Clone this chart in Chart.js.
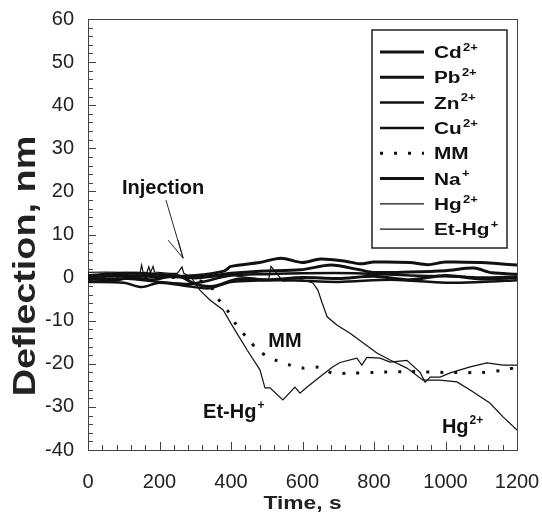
<!DOCTYPE html>
<html>
<head>
<meta charset="utf-8">
<script src="https://cdn.jsdelivr.net/npm/chart.js@4.4.1/dist/chart.umd.min.js"></script>
<style>
  body { margin: 0; background: #fff; }
  #grafico { display: block; }
</style>
</head>
<body>
<canvas id="grafico" width="542" height="519"></canvas>
<script>
// tiempos (s) y deflexiones (nm) leidos a ojo del grafico original
const cdT = [0, 100, 200, 300, 380, 400, 480, 540, 600, 650, 720, 760, 800, 900, 950, 1000, 1100, 1150, 1200];
const cdY = [0.3, 0.5, 0.2, 0.5, 1.5, 2.6, 3.5, 4.5, 3.5, 4.3, 3.8, 3.2, 3.6, 3.5, 3.0, 3.6, 3.5, 3.2, 2.9];

const pbT = [0, 100, 200, 300, 400, 480, 594, 680, 760, 800, 900, 1000, 1080, 1130, 1200];
const pbY = [0.5, 1.0, 0.8, 0.0, 1.0, 1.5, 1.8, 2.9, 1.8, 1.2, 1.3, 1.6, 2.2, 1.1, 0.8];

const znT = [0, 100, 200, 280, 320, 400, 500, 600, 750, 900, 1000, 1100, 1200];
const znY = [-0.5, -0.2, -1.0, -1.5, -1.0, 0.5, 0.8, 1.0, 1.0, 0.5, 0.3, 0.0, 0.2];

const cuT = [0, 100, 150, 200, 280, 340, 400, 550, 700, 850, 1000, 1100, 1200];
const cuY = [-1.0, -1.2, -2.2, -1.2, -2.0, -2.5, -1.0, -0.6, -1.0, -0.5, -1.2, -1.0, -0.6];

const naT = [0, 60, 120, 180, 250, 300, 350, 420, 500, 600, 700, 800, 900, 1000, 1100, 1200];
const naY = [0.0, -0.8, 0.0, -0.5, 0.5, -1.5, -2.0, -0.3, -0.5, 0.0, -0.2, 0.3, -0.5, 0.5, -0.3, 0.0];

const mmT = [0, 100, 200, 300, 341, 355, 389, 411, 445, 481, 523, 565, 601, 643, 685, 724, 800, 900, 1000, 1100, 1160, 1200];
const mmY = [0.0, -0.3, 0.2, -0.5, -1.7, -4.0, -7.5, -10.5, -14.0, -17.2, -19.1, -20.3, -21.0, -20.8, -22.2, -22.2, -22.0, -21.8, -22.0, -22.0, -21.5, -20.8];

const hgT = [0, 100, 200, 300, 400, 505, 512, 545, 600, 629, 643, 655, 669, 696, 733, 808, 845, 892, 937, 985, 1032, 1069, 1124, 1161, 1200];
const hgY = [0.0, 0.3, 0.2, -0.3, 0.5, -0.5, 2.6, -0.8, -0.5, -1.25, -2.9, -5.9, -9.1, -11.0, -12.9, -17.5, -19.1, -21.0, -23.8, -23.8, -24.2, -26.1, -29.1, -32.3, -35.4];

const ethgT = [0, 50, 100, 146, 150, 154, 165, 170, 175, 182, 186, 230, 250, 263, 268, 290, 299, 313, 341, 378, 406, 445, 481, 495, 509, 545, 579, 593, 613, 649, 685, 705, 752, 766, 780, 817, 845, 892, 929, 943, 957, 985, 1013, 1069, 1116, 1161, 1200];
const ethgY = [1.2, 1.3, 1.2, 1.2, 2.9, 1.3, 1.2, 2.5, 1.2, 2.6, 1.3, 1.0, 1.0, 2.5, 1.0, 0.0, -1.25, -2.9, -5.2, -7.5, -11.5, -16.8, -21.4, -25.6, -25.6, -28.4, -25.4, -26.8, -25.4, -23.0, -20.7, -19.7, -18.7, -20.3, -18.5, -18.7, -19.6, -19.2, -22.0, -24.3, -23.1, -23.1, -22.1, -20.7, -19.8, -20.3, -20.3];

const xMin = 0, xMax = 1200, xPaso = 200, xMenor = 40;
const yMin = -40, yMax = 60, yPaso = 10, yMenor = 2;
const tituloX = 'Time, s';
const tituloY = 'Deflection, nm';

const fuente = '"Liberation Sans", Arial, sans-serif';
const negro = '#111';

function pares(t, v) {
    return t.map((x, i) => ({ x: x, y: v[i] }));
}

// nombre, superindice, datos, grosor, trazo
const series = [
    { nombre: 'Cd', sup: '2+', data: pares(cdT, cdY), ancho: 3, dash: [], tension: 0.3 },
    { nombre: 'Pb', sup: '2+', data: pares(pbT, pbY), ancho: 3, dash: [], tension: 0.3 },
    { nombre: 'Zn', sup: '2+', data: pares(znT, znY), ancho: 2.5, dash: [], tension: 0.3 },
    { nombre: 'Cu', sup: '2+', data: pares(cuT, cuY), ancho: 2.5, dash: [], tension: 0.3 },
    { nombre: 'MM', sup: '', data: pares(mmT, mmY), ancho: 3, dash: [3, 11], tension: 0.3 },
    { nombre: 'Na', sup: '+', data: pares(naT, naY), ancho: 3, dash: [], tension: 0.3 },
    { nombre: 'Hg', sup: '2+', data: pares(hgT, hgY), ancho: 1.2, dash: [], tension: 0 },
    { nombre: 'Et-Hg', sup: '+', data: pares(ethgT, ethgY), ancho: 1.2, dash: [], tension: 0 }
];

// textos sobre el grafico, en coordenadas de datos
const notas = [
    { texto: 'Injection', sup: '', x: 95, y: 19.4, align: 'left' },
    { texto: 'MM', sup: '', x: 551, y: -16.1, align: 'center' },
    { texto: 'Et-Hg', sup: '+', x: 322, y: -32.6, align: 'left' },
    { texto: 'Hg', sup: '2+', x: 990, y: -36, align: 'left' }
];
// flecha de la inyeccion: cola, punta y dos lados de la cabeza
const flechaX = [218, 266, 224, 252];
const flechaY = [18, 4.5, 8.7, 8.7];

function textoConSup(ctx, texto, sup, x, y, tam, align, sx) {
    sx = sx || 1;
    ctx.font = 'bold ' + tam + 'px ' + fuente;
    const w = ctx.measureText(texto).width;
    ctx.font = 'bold ' + Math.round(tam * 0.62) + 'px ' + fuente;
    const ws = sup ? ctx.measureText(sup).width + 1 : 0;
    ctx.save();
    ctx.translate(x, y);
    ctx.scale(sx, 1);
    let x0 = 0;
    if (align === 'center') x0 = -(w + ws) / 2;
    ctx.textAlign = 'left';
    ctx.textBaseline = 'alphabetic';
    ctx.font = 'bold ' + tam + 'px ' + fuente;
    ctx.fillText(texto, x0, 0);
    if (sup) {
        ctx.font = 'bold ' + Math.round(tam * 0.62) + 'px ' + fuente;
        ctx.fillText(sup, x0 + w + 1, -tam * 0.45);
    }
    ctx.restore();
}

const marco = {
    id: 'marco',
    beforeDatasetsDraw(chart) {
        const { ctx, chartArea: a, scales: { x, y } } = chart;
        ctx.save();
        ctx.strokeStyle = '#444';
        ctx.lineWidth = 1;
        ctx.beginPath();
        for (let v = xMin; v <= xMax; v += xMenor) {
            const px = Math.round(x.getPixelForValue(v)) + 0.5;
            const largo = v % xPaso === 0 ? 8 : 5;
            ctx.moveTo(px, a.bottom);
            ctx.lineTo(px, a.bottom - largo);
        }
        for (let v = yMin; v <= yMax; v += yMenor) {
            const py = Math.round(y.getPixelForValue(v)) + 0.5;
            const largo = v % yPaso === 0 ? 8 : 5;
            ctx.moveTo(a.left, py);
            ctx.lineTo(a.left + largo, py);
        }
        ctx.stroke();
        ctx.strokeRect(Math.round(a.left) + 0.5, Math.round(a.top) + 0.5, Math.round(a.width), Math.round(a.height));

        // titulos de los ejes (la tipografia del original va algo estirada)
        ctx.fillStyle = '#222';
        textoConSup(ctx, tituloX, '', (a.left + a.right) / 2, 509, 19, 'center', 1.2);
        ctx.font = 'bold 31px ' + fuente;
        ctx.textAlign = 'center';
        ctx.textBaseline = 'middle';
        ctx.translate(26, 266);
        ctx.rotate(-Math.PI / 2);
        ctx.scale(1.22, 1);
        ctx.fillText(tituloY, 0, 0);
        ctx.restore();
    },
    afterDraw(chart) {
        const { ctx, chartArea: a, scales: { x, y } } = chart;
        ctx.save();
        ctx.fillStyle = negro;
        notas.forEach(n => {
            textoConSup(ctx, n.texto, n.sup, x.getPixelForValue(n.x), y.getPixelForValue(n.y), 20, n.align);
        });

        // flecha
        const fx = flechaX.map(v => x.getPixelForValue(v));
        const fy = flechaY.map(v => y.getPixelForValue(v));
        ctx.strokeStyle = negro;
        ctx.lineWidth = 0.9;
        ctx.beginPath();
        ctx.moveTo(fx[0], fy[0]); ctx.lineTo(fx[1], fy[1]);
        ctx.moveTo(fx[2], fy[2]); ctx.lineTo(fx[1], fy[1]); ctx.lineTo(fx[3], fy[3]);
        ctx.stroke();

        // leyenda
        const lx = a.right - 145, ly = a.top + 11, lw = 135, lh = 218;
        ctx.fillStyle = '#fff';
        ctx.fillRect(lx, ly, lw, lh);
        ctx.strokeStyle = '#222';
        ctx.lineWidth = 1.5;
        ctx.strokeRect(lx, ly, lw, lh);
        series.forEach((s, i) => {
            const yy = ly + 22 + i * 25.3;
            ctx.strokeStyle = negro;
            ctx.lineWidth = s.ancho;
            ctx.setLineDash(s.dash);
            ctx.beginPath();
            ctx.moveTo(lx + 8, yy);
            ctx.lineTo(lx + 52, yy);
            ctx.stroke();
            ctx.setLineDash([]);
            ctx.fillStyle = negro;
            textoConSup(ctx, s.nombre, s.sup, lx + 62, yy + 6, 16, 'left', 1.3);
        });
        ctx.restore();
    }
};

new Chart(document.getElementById('grafico'), {
    type: 'line',
    data: {
        datasets: series.map(s => ({
            label: s.nombre,
            data: s.data,
            borderColor: negro,
            borderWidth: s.ancho,
            borderDash: s.dash,
            pointRadius: 0,
            tension: s.tension,
            fill: false
        }))
    },
    options: {
        responsive: false,
        animation: false,
        devicePixelRatio: 1,
        layout: { padding: { top: 19, right: 25, left: 0, bottom: 0 } },
        plugins: {
            legend: { display: false },
            tooltip: { enabled: false }
        },
        scales: {
            x: {
                type: 'linear',
                min: xMin,
                max: xMax,
                afterFit: s => { s.height = 69; s.paddingLeft = 0; s.paddingRight = 0; },
                grid: { display: false },
                border: { display: false },
                ticks: { stepSize: xPaso, color: '#222', padding: 12, font: { family: fuente, size: 20 }, callback: v => String(v) },
                title: { display: false }
            },
            y: {
                min: yMin,
                max: yMax,
                afterFit: s => { s.width = 88; s.paddingTop = 0; s.paddingBottom = 0; },
                grid: { display: false },
                border: { display: false },
                ticks: { stepSize: yPaso, color: '#222', padding: 6, font: { family: fuente, size: 20 }, callback: v => String(v) },
                title: { display: false }
            }
        }
    },
    plugins: [marco]
});
</script>
</body>
</html>
